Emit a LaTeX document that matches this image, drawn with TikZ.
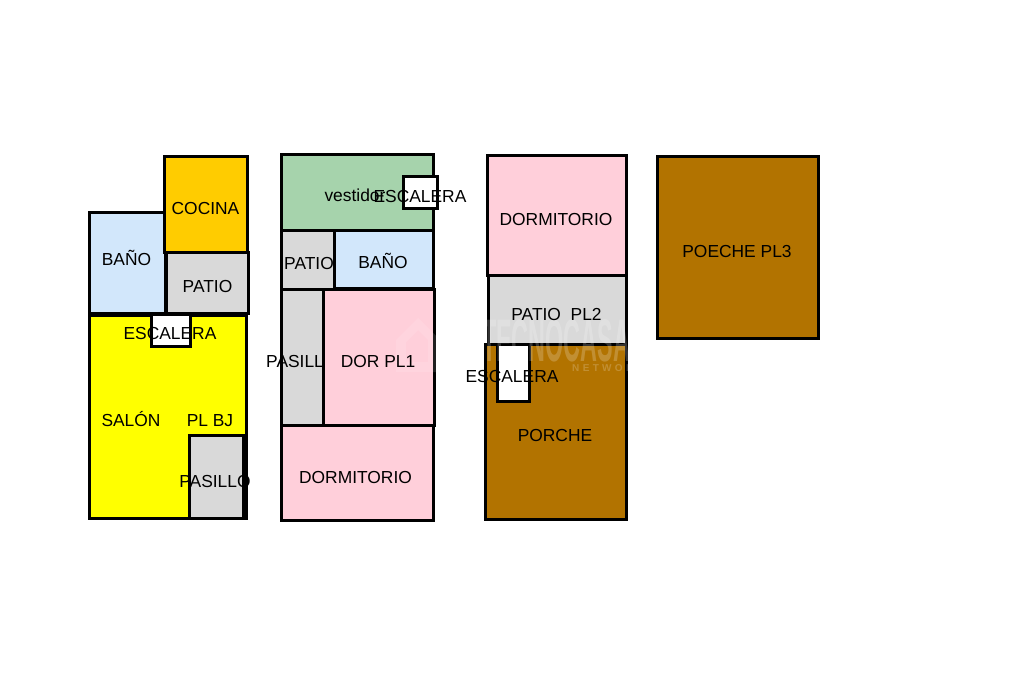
\documentclass[tikz,border=0pt]{standalone}
\usepackage{fontspec}
\setmainfont{Liberation Sans}
\definecolor{cyel}{HTML}{FFFF00}
\definecolor{cora}{HTML}{FFCC00}
\definecolor{cblu}{HTML}{D2E7FB}
\definecolor{cgry}{HTML}{D9D9D9}
\definecolor{cgrn}{HTML}{A6D3AC}
\definecolor{cpnk}{HTML}{FFCFDA}
\definecolor{cbrn}{HTML}{B27300}
\tikzset{
  room/.style={draw=black,line width=3pt,line join=miter},
  label/.style={font=\fontsize{17.4pt}{20pt}\selectfont,text=black,inner sep=0pt,anchor=center},
  wmark/.style={text=white,text opacity=.2,inner sep=0pt,anchor=west,transform shape}
}
\begin{document}
\begin{tikzpicture}[x=1pt,y=-1pt]
\useasboundingbox (0,0) rectangle (1024,682);
\fill[white] (0,0) rectangle (1024,682);
% ground floor
\draw[room,fill=cyel] (89.5,315.5) rectangle (246,518);
\draw[room,fill=cblu] (89.5,212.5) rectangle (165.5,313);
\draw[room,fill=cora] (164.5,156.5) rectangle (247.5,252);
\draw[room,fill=cgry] (166.5,252.5) rectangle (248,313.5);
\draw[room,fill=white] (151.5,314) rectangle (190,346);
\draw[room,fill=cgry] (189,435.5) rectangle (244,518.5);
\fill[black] (242,435) rectangle (247,519);
% first floor
\draw[room,fill=cgrn] (281,154.5) rectangle (433,230);
\draw[room,fill=cgry] (281,230) rectangle (334.5,289);
\node[label,anchor=west] (patio2) at (284,263.5) {PATIO};
\draw[room,fill=cblu] (334.5,230) rectangle (433,288);
\draw[room,fill=cgry] (281,289.5) rectangle (323.5,425.5);
\node[label,anchor=west] (pas2) at (266,361.5) {PASILLO};
\draw[room,fill=cpnk] (323.5,289.5) rectangle (434,425.5);
\draw[room,fill=cpnk] (281,425.5) rectangle (433,520.5);
\draw[room,fill=white] (403.5,176) rectangle (437,208.5);
% second floor
\draw[room,fill=cpnk] (487,155.5) rectangle (626.5,275.5);
\draw[room,fill=cgry] (488,275.5) rectangle (626.5,344);
\draw[room,fill=cbrn] (485,344) rectangle (626.5,519.5);
\draw[room,fill=white] (497.5,344) rectangle (529,401.5);
% third floor
\draw[room,fill=cbrn] (657.5,156.5) rectangle (818.5,338);
% watermark
\begin{scope}
\clip (385,305) rectangle (629,380);
\fill[white,opacity=.12,even odd rule] (396,340) -- (418,318) -- (436,336) -- (436,372) -- (396,372) -- cycle (406,342) -- (418,330) -- (428,340) -- (428,362) -- (406,362) -- cycle;
\node[wmark,font=\fontsize{60pt}{60pt}\bfseries\selectfont,xscale=.39] (wm1) at (482,341) {TECNOCASA};
\node[wmark,font=\fontsize{10pt}{10pt}\bfseries\selectfont] (wm2) at (572,368) {N\,\,E\,\,T\,\,W\,\,O\,\,R\,\,K};
\end{scope}
% labels
\node[label] (cocina) at (205.5,208.5) {COCINA};
\node[label] (bano1) at (126.5,258) {BAÑO};
\node[label] (patio1) at (207.5,286.5) {PATIO};
\node[label] (esc1) at (170,333.5) {ESCALERA};
\node[label] (salon) at (131,419.5) {SALÓN};
\node[label] (plbj) at (210,420.5) {PL BJ};
\node[label] (pas1) at (215,481.5) {PASILLO};
\node[label] (vest) at (355,195.5) {vestidor};
\node[label] (esc2) at (420,196.5) {ESCALERA};
\node[label] (bano2) at (383,261) {BAÑO};
\node[label] (dor1) at (378,361.5) {DOR PL1};
\node[label] (dorm1) at (355.5,477.5) {DORMITORIO};
\node[label] (dorm2) at (556,219.5) {DORMITORIO};
\node[label] (patio3) at (556.5,314.5) {PATIO\ \ PL2};
\node[label] (esc3) at (512,376.5) {ESCALERA};
\node[label] (porche) at (555,435.5) {PORCHE};
\node[label] (poeche) at (737,251.5) {POECHE PL3};
\end{tikzpicture}
\end{document}
